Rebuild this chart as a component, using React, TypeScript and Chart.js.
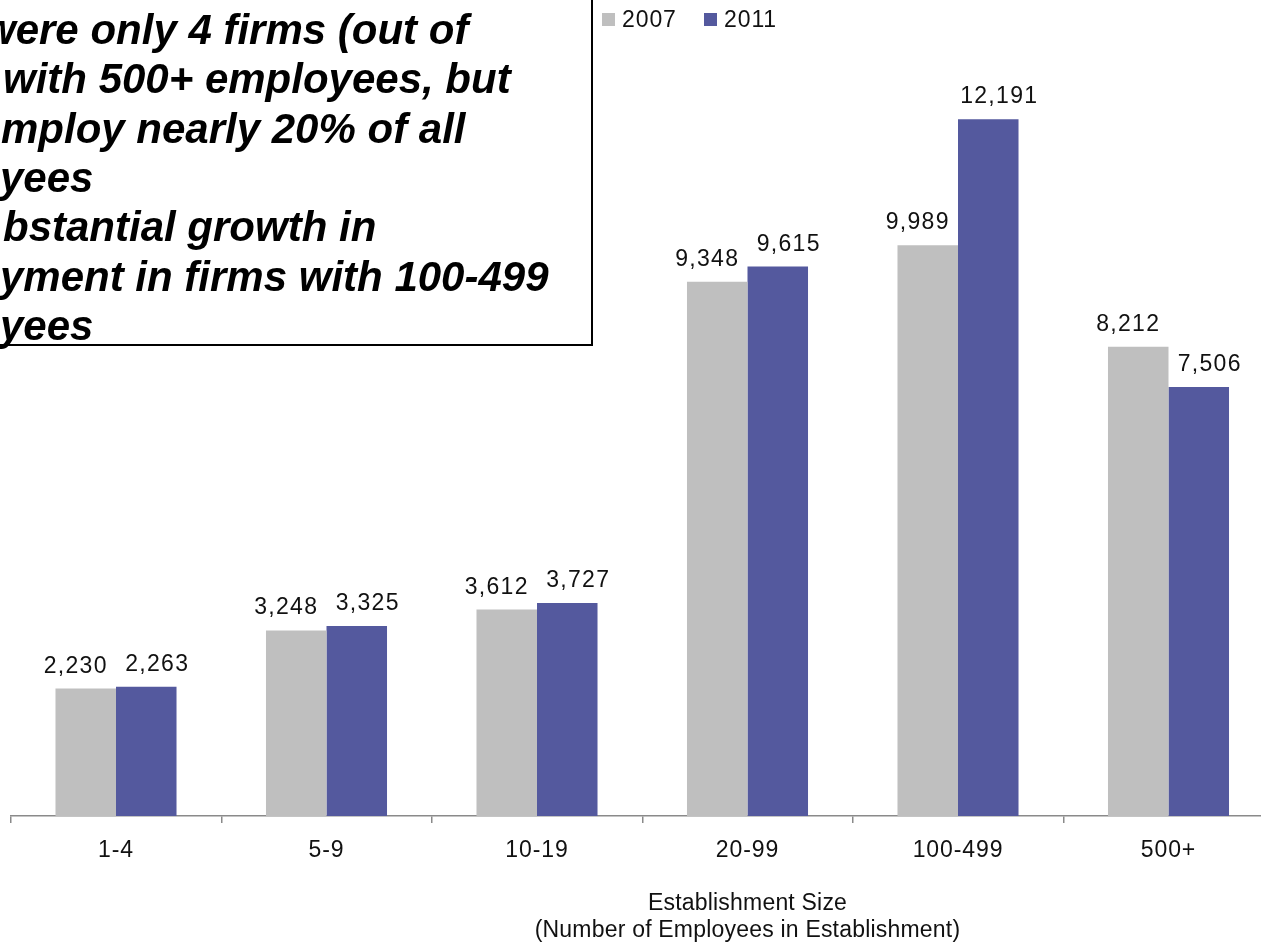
import React, { useEffect, useRef } from "react";
import { Chart, registerables } from "chart.js";

Chart.register(...registerables);

const categories = ["1-4", "5-9", "10-19", "20-99", "100-499", "500+"];
const values2007 = [2230, 3248, 3612, 9348, 9989, 8212];
const values2011 = [2263, 3325, 3727, 9615, 12191, 7506];
const seriesNames = ["2007", "2011"];
const seriesColors = ["#BFBFBF", "#54599E"];
const axisTitleLines = ["Establishment Size", "(Number of Employees in Establishment)"];
const noteLines = [
  "were only 4 firms (out of",
  "with 500+ employees, but",
  "mploy nearly 20% of all",
  "yees",
  "bstantial growth in",
  "yment in firms with 100-499",
  "yees",
];

const FONT = "'Liberation Sans', Arial, sans-serif";

const overlayPlugin = {
  id: "overlay",
  beforeDraw(chart: any) {
    chart.ctx.letterSpacing = "0.9px";
  },
  afterDatasetsDraw(chart: any) {
    const ctx = chart.ctx;
    ctx.save();
    ctx.letterSpacing = "1.3px";
    ctx.font = `23px ${FONT}`;
    ctx.fillStyle = "#111111";
    ctx.textAlign = "center";
    ctx.textBaseline = "alphabetic";
    chart.data.datasets.forEach((ds: any, di: number) => {
      const meta = chart.getDatasetMeta(di);
      const shift = di === 0 ? -10 : 11;
      meta.data.forEach((bar: any, i: number) => {
        const v = ds.data[i] as number;
        ctx.fillText(v.toLocaleString("en-US"), bar.x + shift, bar.y - 16);
      });
    });
    ctx.restore();
  },
  afterDraw(chart: any) {
    const ctx = chart.ctx;
    ctx.save();

    // Axis title (two lines)
    ctx.letterSpacing = "0.2px";
    ctx.font = `23px ${FONT}`;
    ctx.fillStyle = "#111111";
    ctx.textAlign = "center";
    ctx.textBaseline = "middle";
    const titleX = chart.scales.x.getPixelForValue(3);
    axisTitleLines.forEach((t, i) => {
      ctx.fillText(t, titleX, 904 + i * 27);
    });

    // Legend
    ctx.letterSpacing = "0.9px";
    ctx.textAlign = "left";
    ctx.textBaseline = "alphabetic";
    const legendX = [602, 704];
    seriesNames.forEach((name, i) => {
      ctx.fillStyle = seriesColors[i];
      ctx.fillRect(legendX[i], 13, 13, 13);
      ctx.fillStyle = "#111111";
      ctx.fillText(name, legendX[i] + 20, 26.5);
    });

    // Annotation box
    ctx.fillStyle = "#ffffff";
    ctx.fillRect(-10, -10, 602, 355);
    ctx.strokeStyle = "#000000";
    ctx.lineWidth = 2;
    ctx.strokeRect(-10, -10, 602, 355);
    ctx.letterSpacing = "0px";
    ctx.font = `italic bold 42px ${FONT}`;
    ctx.fillStyle = "#000000";
    ctx.textAlign = "left";
    ctx.textBaseline = "alphabetic";
    const noteX = [-17, 3, 1, 0, 3, 0, 0];
    noteLines.forEach((t, i) => {
      ctx.fillText(t, noteX[i], 44 + i * 49.3);
    });

    ctx.restore();
    ctx.letterSpacing = "0px";
  },
};

export default function App() {
  const canvasRef = useRef<HTMLCanvasElement | null>(null);

  useEffect(() => {
    if (!canvasRef.current) return;
    const chart = new Chart(canvasRef.current, {
      type: "bar",
      data: {
        labels: categories,
        datasets: [
          {
            label: seriesNames[0],
            data: values2007,
            backgroundColor: seriesColors[0],
            borderWidth: 0,
            categoryPercentage: 0.575,
            barPercentage: 1.0,
          },
          {
            label: seriesNames[1],
            data: values2011,
            backgroundColor: seriesColors[1],
            borderWidth: 0,
            categoryPercentage: 0.575,
            barPercentage: 1.0,
          },
        ],
      },
      options: {
        animation: false,
        responsive: false,
        devicePixelRatio: 1,
        layout: { padding: { left: 10.75, right: 16.25, top: 16, bottom: 0 } },
        plugins: {
          legend: { display: false },
          tooltip: { enabled: false },
          title: { display: false },
        },
        scales: {
          x: {
            type: "category",
            offset: true,
            afterFit: (scale: any) => {
              scale.height = 127;
            },
            grid: {
              offset: true,
              drawOnChartArea: false,
              drawTicks: true,
              tickLength: 7,
              color: "#8a8a8a",
              lineWidth: 1.5,
            },
            border: { display: true, color: "#8a8a8a", width: 1.5 },
            ticks: {
              color: "#111111",
              font: { family: FONT, size: 23 },
              padding: 14,
              autoSkip: false,
              maxRotation: 0,
            },
          },
          y: {
            display: false,
            min: 0,
            max: 14000,
          },
        },
      },
      plugins: [overlayPlugin],
    });
    return () => chart.destroy();
  }, []);

  return (
    <div
      style={{
        position: "fixed",
        left: 0,
        top: 0,
        width: 1261,
        height: 943,
        overflow: "hidden",
        background: "#ffffff",
      }}
    >
      <canvas ref={canvasRef} width={1290} height={943} style={{ display: "block" }} />
    </div>
  );
}
